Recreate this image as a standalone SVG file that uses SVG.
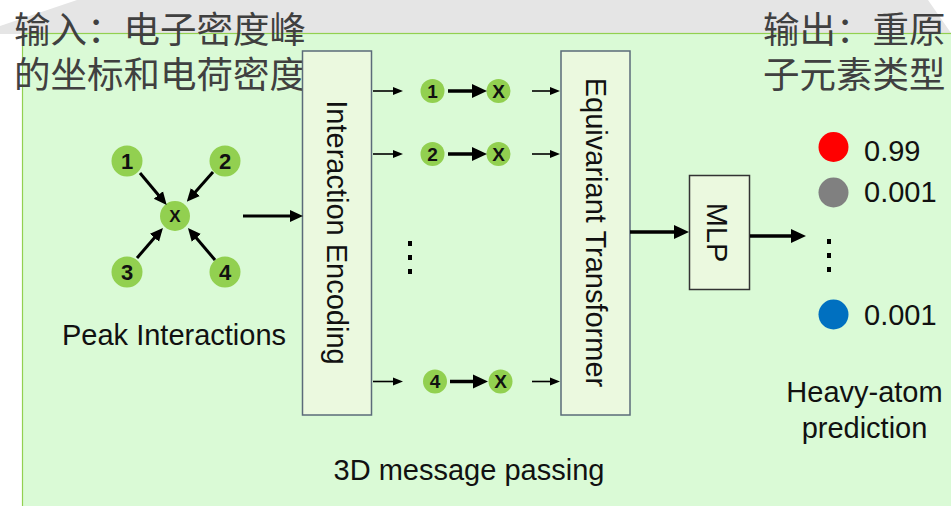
<svg xmlns="http://www.w3.org/2000/svg" width="951" height="506" viewBox="0 0 951 506">
  <style>
    .cjk { font-family: "Noto Sans CJK SC", "Noto Sans", sans-serif; font-size: 36.5px; fill: #404040; }
    .lbl { font-family: "Liberation Sans", Arial, sans-serif; font-size: 29px; fill: #111; }
    .num { font-family: "Liberation Sans", Arial, sans-serif; font-weight: bold; fill: #111; text-anchor: middle; }
    .node { fill: #92d050; }
    .block { fill: #ebf9df; stroke: #5b6b7a; stroke-width: 1.5; }
    .mlp { fill: #ebf9df; stroke: #333; stroke-width: 1.5; }
    .thin { stroke: #000; stroke-width: 1.6; fill: none; marker-end: url(#headThin); }
    .mid { stroke: #000; stroke-width: 3; fill: none; marker-end: url(#headMid); }
    .thick { stroke: #000; stroke-width: 3.5; fill: none; marker-end: url(#headThick); }
  </style>
  <defs>
    <marker id="headThin" markerUnits="userSpaceOnUse" viewBox="0 -5 10 10" refX="1" refY="0" markerWidth="10" markerHeight="10" orient="auto">
      <path d="M0,-4 L10,0 L0,4 z" fill="#000"/>
    </marker>
    <marker id="headMid" markerUnits="userSpaceOnUse" viewBox="0 -7 13 14" refX="1" refY="0" markerWidth="13" markerHeight="14" orient="auto">
      <path d="M0,-6 L13,0 L0,6 z" fill="#000"/>
    </marker>
    <marker id="headThick" markerUnits="userSpaceOnUse" viewBox="0 -8 15 16" refX="1" refY="0" markerWidth="15" markerHeight="16" orient="auto">
      <path d="M0,-7 L15,0 L0,7 z" fill="#000"/>
    </marker>
  </defs>

  <!-- backdrop -->
  <polygon points="77,0 928,0 951,33 951,34 0,34 0,26" fill="#e5e5e5"/>
  <rect x="22.5" y="33.5" width="940" height="480" fill="#dafad6" stroke="#92d050" stroke-width="1.2"/>

  <!-- captions -->
  <g id="input-caption">
    <text class="cjk" x="14" y="43">输入：电子密度峰<tspan x="14" y="88">的坐标和电荷密度</tspan></text>
  </g>
  <g id="output-caption">
    <text class="cjk" x="763" y="43">输出：重原<tspan x="763" y="88">子元素类型</tspan></text>
  </g>

  <!-- peak interaction cluster -->
  <g id="peak-1"><circle class="node" cx="127" cy="161" r="15.5"/><text class="num" x="127" y="169" font-size="22">1</text></g>
  <g id="peak-2"><circle class="node" cx="225" cy="161" r="15.5"/><text class="num" x="225" y="169" font-size="22">2</text></g>
  <g id="peak-3"><circle class="node" cx="127" cy="272" r="15.5"/><text class="num" x="127" y="280" font-size="22">3</text></g>
  <g id="peak-4"><circle class="node" cx="225" cy="272" r="15.5"/><text class="num" x="225" y="280" font-size="22">4</text></g>
  <g id="peak-x"><circle class="node" cx="175" cy="216" r="15"/><text class="num" x="175" y="222" font-size="17">X</text></g>
  <g id="peak-caption"><text class="lbl" x="62" y="345">Peak Interactions</text></g>

  <!-- interaction encoding block -->
  <g id="interaction-encoding">
    <rect class="block" x="302.5" y="51" width="69" height="364"/>
    <text class="lbl" transform="translate(327,232.5) rotate(90)" text-anchor="middle">Interaction Encoding</text>
  </g>

  <!-- message rows -->
  <g id="row-1">
    <circle class="node" cx="432.5" cy="91" r="12"/><text class="num" x="432.5" y="97.5" font-size="19">1</text>
    <circle class="node" cx="498.5" cy="91" r="12"/><text class="num" x="498.5" y="97.5" font-size="19">X</text>
  </g>
  <g id="row-2">
    <circle class="node" cx="432.5" cy="154" r="12"/><text class="num" x="432.5" y="160.5" font-size="19">2</text>
    <circle class="node" cx="498.5" cy="154" r="12"/><text class="num" x="498.5" y="160.5" font-size="19">X</text>
  </g>
  <g id="row-4">
    <circle class="node" cx="435" cy="381.5" r="12"/><text class="num" x="435" y="388" font-size="19">4</text>
    <circle class="node" cx="500.5" cy="381.5" r="12"/><text class="num" x="500.5" y="388" font-size="19">X</text>
  </g>
  <g id="row-ellipsis" fill="#000">
    <rect x="408" y="241" width="4" height="5"/>
    <rect x="408" y="255" width="4" height="5"/>
    <rect x="408" y="269" width="4" height="5"/>
  </g>

  <!-- equivariant transformer block -->
  <g id="equivariant-transformer">
    <rect class="block" x="561" y="51" width="69" height="364"/>
    <text class="lbl" transform="translate(586,232.5) rotate(90)" text-anchor="middle">Equivariant Transformer</text>
  </g>
  <g id="message-caption"><text class="lbl" x="469" y="480" text-anchor="middle">3D message passing</text></g>

  <!-- MLP head -->
  <g id="mlp">
    <rect class="mlp" x="689.5" y="175.5" width="60" height="114"/>
    <text class="lbl" transform="translate(707,232.5) rotate(90)" text-anchor="middle">MLP</text>
  </g>

  <!-- prediction scores -->
  <g id="score-1"><circle cx="833.5" cy="147" r="15" fill="#ff0000"/><text class="lbl" x="864" y="161">0.99</text></g>
  <g id="score-2"><circle cx="833.5" cy="192.5" r="15" fill="#808080"/><text class="lbl" x="864" y="202">0.001</text></g>
  <g id="score-ellipsis" fill="#000">
    <rect x="827" y="239" width="4" height="5"/>
    <rect x="827" y="253" width="4" height="5"/>
    <rect x="827" y="267" width="4" height="5"/>
  </g>
  <g id="score-n"><circle cx="833.5" cy="314.5" r="15" fill="#0070c0"/><text class="lbl" x="864" y="325">0.001</text></g>
  <g id="prediction-caption">
    <text class="lbl" x="864.5" y="402" text-anchor="middle">Heavy-atom<tspan x="864.5" y="438">prediction</tspan></text>
  </g>

  <!-- connectors -->
  <g id="connectors">
    <line class="mid" x1="140" y1="173" x2="159" y2="195.8"/>
    <line class="mid" x1="213" y1="172" x2="194.7" y2="192.7"/>
    <line class="mid" x1="137" y1="258" x2="155.1" y2="237"/>
    <line class="mid" x1="215" y1="260" x2="195.7" y2="237.2"/>
    <line class="mid" x1="243" y1="216" x2="291" y2="216"/>

    <line class="thin" x1="373" y1="91" x2="394" y2="91"/>
    <line class="thick" x1="448" y1="91" x2="473" y2="91"/>
    <line class="thin" x1="532" y1="91" x2="551" y2="91"/>

    <line class="thin" x1="373" y1="154" x2="394" y2="154"/>
    <line class="thick" x1="448" y1="154" x2="473" y2="154"/>
    <line class="thin" x1="532" y1="154" x2="551" y2="154"/>

    <line class="thin" x1="373" y1="381.5" x2="394" y2="381.5"/>
    <line class="thick" x1="450" y1="381.5" x2="474" y2="381.5"/>
    <line class="thin" x1="532" y1="381.5" x2="551" y2="381.5"/>

    <line class="thick" x1="630" y1="232" x2="675" y2="232"/>
    <line class="thick" x1="750" y1="236" x2="792" y2="236"/>
  </g>
</svg>
